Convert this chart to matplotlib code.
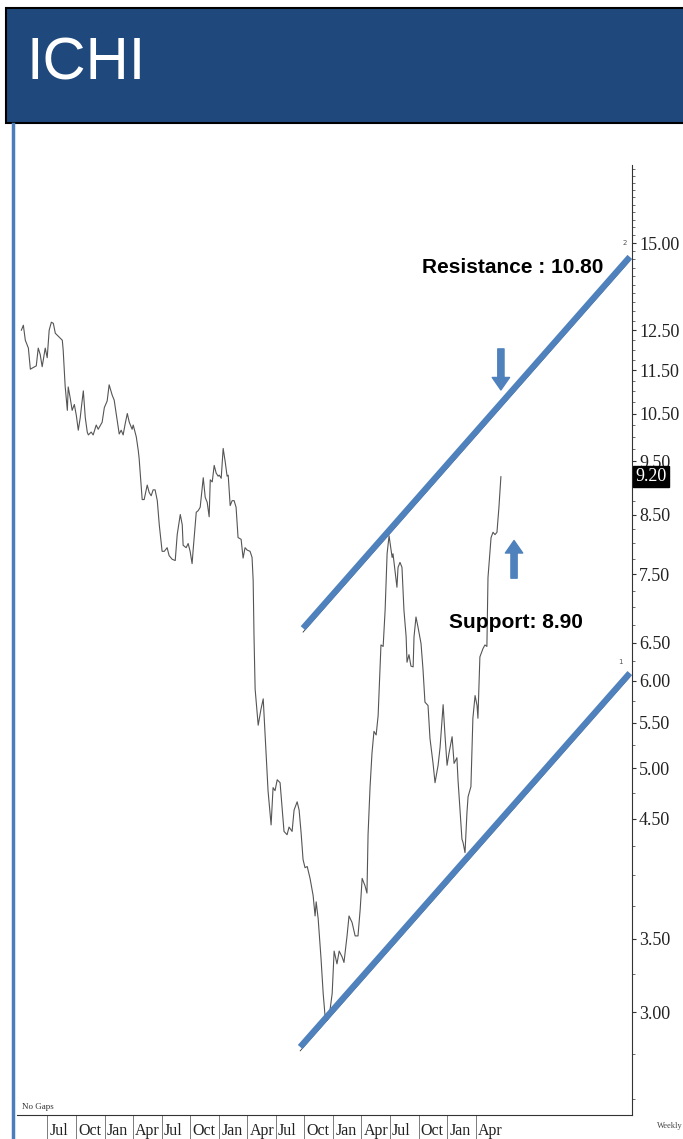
import numpy as np
import pandas as pd
import matplotlib
matplotlib.use("Agg")
import matplotlib.pyplot as plt
from matplotlib.patches import Rectangle
from matplotlib.lines import Line2D
from matplotlib.ticker import FixedLocator, NullFormatter

# weekly closes (week number counted from the first bar)
start = pd.Timestamp("2015-04-06")
weeks = [0.5, 1.4, 2.3, 3.7, 4.6, 5.9, 7.3, 8.2, 9.1, 10.0, 11.4, 12.3, 13.2, 14.2, 15.1,
         16.0, 17.4, 19.2, 19.6, 20.5, 21.5, 21.9, 22.8, 23.7, 24.7, 25.6, 26.5, 27.4, 27.9, 28.8,
         29.7, 30.6, 31.1, 32.4, 33.3, 34.7, 35.6, 37.4, 38.4, 39.7, 40.6, 42.0, 42.9, 44.3, 45.2,
         46.1, 47.0, 47.9, 48.9, 49.8, 51.1, 51.6, 53.0, 53.9, 54.3,
         55.7, 56.6, 58.0, 58.9, 59.8, 60.7, 61.6, 62.6, 63.5, 64.8, 65.8, 67.1, 68.0, 69.4, 70.8,
         71.7, 73.1, 74.0, 74.4, 75.8, 76.7, 77.6, 78.5, 79.0, 80.4, 81.3, 82.2, 83.6, 84.5, 85.4,
         86.3, 86.8, 87.7, 88.6, 89.5, 90.4, 90.9, 91.8, 92.7, 93.6, 94.5, 95.0, 95.9, 96.8, 97.7,
         98.6, 99.5, 100.9, 101.8, 102.7, 103.7, 105.0, 105.9, 106.4,
         106.8, 107.3, 108.7, 110.0, 111.0, 111.4, 112.3, 113.2, 114.6, 115.5, 116.4, 117.4, 118.7,
         119.6, 120.5, 121.9, 122.8, 124.2, 125.1, 126.5, 127.4, 128.3, 129.2,
         130.1, 131.1, 132.4, 133.8, 134.7, 135.2, 136.1, 137.4, 138.4, 139.3, 140.2, 141.1, 142.5,
         143.4, 144.7, 145.7, 147.0, 147.9, 149.3, 150.2, 151.6, 153.0, 154.3, 155.3, 156.2, 157.5,
         158.4, 158.9, 159.8, 160.7, 161.6, 162.6, 163.5, 164.4, 164.8, 165.8, 166.7, 167.6, 168.5,
         169.9, 170.3, 171.2, 172.1, 172.6, 173.5, 174.4, 175.3, 176.3, 176.7, 177.6, 178.5, 179.5,
         179.9, 180.8, 181.7, 183.1, 184.0, 184.9, 186.3, 187.2, 188.6, 189.5, 190.9, 191.8, 193.2,
         194.1, 195.0, 195.9, 197.3, 198.2, 199.5, 200.0, 200.9, 201.8, 202.3, 203.2, 204.1, 204.6,
         205.9, 206.8, 207.8, 208.7, 209.1, 210.0, 211.4, 212.3, 213.2, 213.7, 215.1, 216.0, 216.9,
         217.8, 218.7, 219.6]
prices = [12.50, 12.63, 12.24, 12.04, 11.52, 11.56, 11.60, 12.04, 11.88, 11.58, 12.04, 11.80, 12.50, 12.71, 12.68,
          12.42, 12.34, 12.24, 11.99, 11.12, 10.57, 11.10, 10.85, 10.57, 10.70, 10.46, 10.14, 10.41, 10.63, 11.01,
          10.41, 10.10, 10.04, 10.10, 10.04, 10.25, 10.16, 10.31, 10.63, 10.78, 11.15, 10.91, 10.80, 10.35, 10.06,
          10.14, 10.04, 10.27, 10.50, 10.31, 10.16, 10.25, 10.00, 9.72, 9.56,
          8.77, 8.77, 9.04, 8.90, 8.84, 8.95, 8.95, 8.75, 8.32, 7.87, 7.87, 7.93, 7.80, 7.74, 7.72,
          8.15, 8.50, 8.32, 7.97, 7.93, 8.00, 7.87, 7.67, 7.90, 8.54, 8.57, 8.63, 9.18, 8.81, 8.72,
          8.46, 9.14, 9.10, 9.42, 9.27, 9.21, 9.23, 9.17, 9.76, 9.50, 9.21, 9.23, 8.66, 8.75, 8.75,
          8.63, 8.10, 8.07, 7.76, 7.93, 7.89, 7.87, 7.77, 7.41,
          6.58, 5.90, 5.47, 5.66, 5.78, 5.58, 5.16, 4.77, 4.44, 4.80, 4.77, 4.88, 4.85,
          4.61, 4.38, 4.35, 4.42, 4.38, 4.58, 4.66, 4.58, 4.37, 4.13,
          4.06, 4.07, 3.97, 3.83, 3.67, 3.78, 3.65, 3.36, 3.12, 2.97, 2.95, 2.97, 3.12,
          3.41, 3.32, 3.41, 3.37, 3.33, 3.52, 3.67, 3.62, 3.52, 3.52, 3.72, 3.97, 3.91,
          3.85, 4.35, 4.80, 5.16, 5.40, 5.36, 5.58, 6.19, 6.47, 6.45, 6.96, 7.83, 8.13,
          7.77, 7.83, 7.56, 7.30, 7.61, 7.69, 7.61, 6.96, 6.58, 6.24, 6.34, 6.19, 6.18,
          6.58, 6.86, 6.72, 6.49, 6.15, 5.74, 5.70, 5.32, 5.05, 4.85, 5.03, 5.22, 5.71,
          5.34, 5.03, 5.16, 5.34, 5.05, 5.11, 4.88, 4.59, 4.31, 4.28, 4.19, 4.56, 4.71,
          4.81, 5.55, 5.82, 5.70, 5.55, 6.31, 6.42, 6.47, 6.45, 7.45, 8.10, 8.19, 8.15,
          8.19, 8.63, 9.20]

# channel lines
resist_weeks = [129.2, 278.5]
resist_prices = [6.70, 14.57]
support_weeks = [127.9, 278.5]
support_prices = [2.79, 6.10]

ytick_vals = [3.0, 3.5, 4.5, 5.0, 5.5, 6.0, 6.5, 7.5, 8.5, 9.5, 10.5, 11.5, 12.5, 15.0]
last_price = 9.20
resistance_text = "Resistance : 10.80"
support_text = "Support: 8.90"


def to_dates(w):
    return (start + pd.to_timedelta(np.array(w) * 7, unit="D")).values


W, H = 683, 1139
fig = plt.figure(figsize=(W / 100, H / 100), dpi=100)
fig.patch.set_facecolor("white")

# header bar
fig.add_artist(Rectangle((6 / W, 1 - 123 / H), 1.0, 115 / H, transform=fig.transFigure,
                         facecolor="#1F497D", edgecolor="black", lw=1.5))
fig.text(27 / W, 1 - 64 / H, "ICHI", color="white", fontsize=43, va="center",
         family=["Liberation Sans", "DejaVu Sans"])
fig.add_artist(Line2D([13 / W, 13 / W], [0, 1 - 124 / H], transform=fig.transFigure,
                      color="#4A7EBB", lw=2.5))

ax = fig.add_axes([17 / W, 1 - 1115 / H, 615 / W, 950 / H])
ax.set_yscale("log")
ax.plot(to_dates(weeks), prices, color="#555555", lw=0.8, zorder=3)

blue = "#4F81BD"
ax.plot(to_dates(resist_weeks), resist_prices, color=blue, lw=4.5, solid_capstyle="butt", zorder=4)
ax.plot(to_dates(support_weeks), support_prices, color=blue, lw=4.5, solid_capstyle="butt", zorder=4)
ax.plot(to_dates(resist_weeks), np.array(resist_prices) * 0.992, color="#333333", lw=0.6, zorder=3.5)
ax.plot(to_dates(support_weeks), np.array(support_prices) * 0.992, color="#333333", lw=0.6, zorder=3.5)

ax.set_xlim(to_dates([-1.5])[0], to_dates([279.5])[0])
ax.set_ylim(2.42, 17.66)

# axes styling
for s in ["left", "top"]:
    ax.spines[s].set_visible(False)
ax.spines["right"].set_color("#333333")
ax.spines["bottom"].set_color("#333333")
ax.yaxis.tick_right()
tick_font = ["Liberation Serif", "DejaVu Serif"]
ax.yaxis.set_major_locator(FixedLocator(ytick_vals))
ax.set_yticklabels([f"{v:.2f}" for v in ytick_vals], family=tick_font, fontsize=13,
                   color="#222222")
minor = [v for v in np.arange(2.5, 17.75, 0.25) if round(v, 2) not in ytick_vals]
ax.yaxis.set_minor_locator(FixedLocator(minor))
ax.yaxis.set_minor_formatter(NullFormatter())
ax.tick_params(axis="y", which="major", direction="out", length=3, width=0.8, pad=2, colors="#333333")
ax.tick_params(axis="y", which="minor", direction="out", length=2, width=0.6, colors="#555555")
for lbl in ax.get_yticklabels():
    lbl.set_color("#222222")

# quarter boxes under the axis
qdates = pd.date_range("2015-07-01", "2019-04-01", freq="QS-JAN")
ax.set_xticks(qdates.values)
ax.set_xticklabels([])
ax.tick_params(axis="x", which="major", direction="out", length=18, width=0.6, colors="#666666")
ax.tick_params(axis="x", which="minor", length=0)
for d in qdates:
    ax.annotate(d.strftime("%b"), xy=(d, 0), xycoords=("data", "axes fraction"),
                xytext=(1.5, -5.5), textcoords="offset points", ha="left", va="top",
                fontsize=11.5, family=["Liberation Serif", "DejaVu Serif"], color="#222222",
                annotation_clip=False)

# last price box
ax.annotate(f"{last_price:.2f}", xy=(1, last_price), xycoords=("axes fraction", "data"),
            xytext=(2.5, 0), textcoords="offset points", ha="left", va="center",
            fontsize=13, family=tick_font, color="white", zorder=10, annotation_clip=False,
            bbox=dict(boxstyle="square,pad=0.12", fc="black", ec="black"))

# annotations
ax.text(to_dates([183.6])[0], 14.24, resistance_text, fontsize=15, fontweight="bold",
        family=["Liberation Sans", "DejaVu Sans"], va="center", ha="left", zorder=6)
ax.text(to_dates([195.9])[0], 6.78, support_text, fontsize=15, fontweight="bold",
        family=["Liberation Sans", "DejaVu Sans"], va="center", ha="left", zorder=6)
arrow_style = "simple,head_width=1.25,head_length=0.9,tail_width=0.45"
ax.annotate("", xy=(to_dates([219.6])[0], 11.03), xytext=(to_dates([219.6])[0], 12.02),
            arrowprops=dict(arrowstyle=arrow_style, color=blue, shrinkA=0, shrinkB=0), zorder=6)
ax.annotate("", xy=(to_dates([225.6])[0], 8.05), xytext=(to_dates([225.6])[0], 7.44),
            arrowprops=dict(arrowstyle=arrow_style, color=blue, shrinkA=0, shrinkB=0), zorder=6)

# small marks from the charting package
ax.text(0.008, 0.004, "No Gaps", transform=ax.transAxes, fontsize=6.5, color="#333333",
        family=["Liberation Serif", "DejaVu Serif"], va="bottom", ha="left")
ax.text(0.985, 14.9, "2", transform=ax.get_yaxis_transform(), fontsize=5, color="#555555",
        ha="left", va="bottom")
ax.text(0.978, 6.2, "1", transform=ax.get_yaxis_transform(), fontsize=5, color="#555555",
        ha="left", va="bottom")
fig.text(657 / W, 1 - 1126 / H, "Weekly", fontsize=6, color="#444444",
         family=["Liberation Serif", "DejaVu Serif"], va="center", ha="left")

fig.savefig("out.png", dpi=100)
